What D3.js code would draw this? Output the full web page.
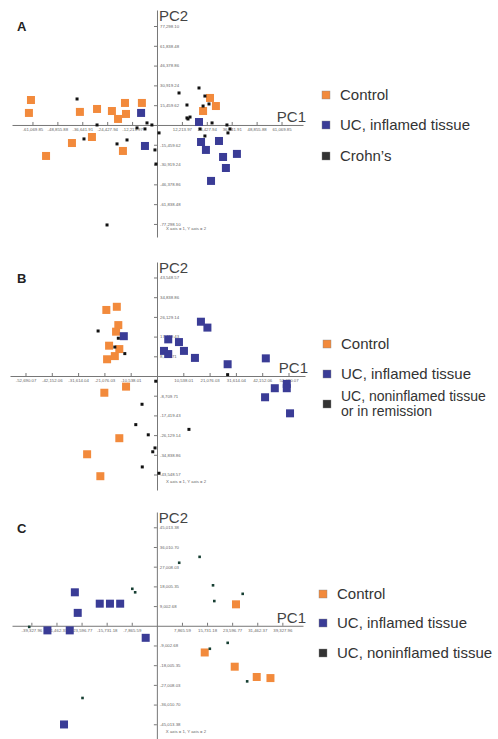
<!DOCTYPE html>
<html>
<head>
<meta charset="utf-8">
<script src="https://cdn.jsdelivr.net/npm/d3@7"></script>
<style>
  body { margin: 0; background: #fff; }
  svg { display: block; font-family: "Liberation Sans", Arial, sans-serif; }
  .tick text { fill: #666; }
</style>
</head>
<body>
<div id="viz"></div>
<script>
// values in thousands
const ctrlA = [[-61.8,19.5],[-62.8,9.4],[-37.8,10.2],[-29.4,12.5],[-22.1,10.9],[-15.7,17.2],[-15.2,8.6],[-19.1,4.7],[-7.4,17.2],[-31.9,-9.4],[-41.7,-14.1],[-54.4,-24.2],[-16.7,-20.3],[26.0,21.1],[28.9,14.8],[22.6,10.9]];
const ucA = [[-7.8,9.4],[-5.9,-16.4],[20.6,2.3],[21.6,-13.3],[24.0,-19.5],[30.4,-12.5],[32.4,-25.0],[39.2,-22.6],[33.8,-33.6],[26.5,-43.7]];
const crohnA = [[-39.2,20.3],[-29.4,0],[-35.8,-10.9],[-19.6,-14.8],[-14.7,-11.7],[-9.8,-2.3],[-5.9,-3.1],[-4.9,1.6],[-2.5,0],[1.0,-6.2],[-1.0,-19.5],[-0.5,-30.5],[-24.5,-78.1],[10.8,25.0],[20.6,28.9],[14.7,15.6],[23.5,22.6],[22.6,14.8],[25.5,16.4],[14.7,5.5],[16.2,6.2],[15.2,4.7],[27.0,1.6],[34.3,0],[35.8,-3.1],[34.8,-6.2],[23.5,-8.6],[21.1,-3.1]];

const ctrlB = [[-20.3,29.2],[-16.1,30.6],[-15.5,22.5],[-16.4,19.6],[-19.2,13.4],[-15.1,11.9],[-16.9,8.8],[-20.0,7.4],[-21.1,-7.4],[-12.4,-4.7],[-15.1,-27.5],[-28.0,-34.6],[-22.7,-44.3]];
const ucB = [[-13.3,17.6],[17.6,24.0],[20.2,21.4],[4.5,16.2],[8.8,15.0],[2.8,11.1],[4.5,9.7],[10.8,11.1],[15.2,8.0],[28.3,5.2],[43.6,7.8],[47.2,-5.4],[52.0,-3.5],[52.0,-5.4],[43.3,-9.4],[53.3,-16.5]];
const remB = [[-23.6,19.9],[-15.5,16.7],[-16.9,12.8],[-12.9,9.9],[-0.5,-2.3],[-6.0,-12.5],[-8.5,-21.5],[-3.5,-26.0],[-0.8,-31.8],[-1.7,-33.5],[-5.9,-40.2],[0.8,-43.0],[28.3,0.6],[12.8,-23.6]];

const ctrlC = [[24.8,9.8],[15.0,-12.2],[24.4,-18.7],[31.3,-23.4],[35.6,-23.9]];
const ucC = [[-25.7,15.3],[-24.8,5.9],[-17.9,10.1],[-14.7,10.1],[-11.5,10.1],[-34.3,-2.1],[-27.3,-2.1],[-3.5,-5.5],[-29.1,-45.1]];
const nonC = [[-40.0,-0.5],[-7.7,16.9],[-6.8,15.3],[-23.3,-33.0],[7.0,28.8],[13.4,31.5],[17.6,18.5],[26.9,14.6],[18.0,11.3],[22.2,-7.8],[16.6,-10.5],[28.3,-25.4]];

// tick values (thousands)
const xTicksA = [-61.06985,-48.85588,-36.64191,-24.42794,-12.21397,12.21397,24.42794,36.64191,48.85588,61.06985];
const yTicksA = [-77.2981,-61.83848,-46.37886,-30.91924,-15.45962,15.45962,30.91924,46.37886,61.83848,77.2981];
const xTicksB = [-52.69007,-42.15206,-31.61404,-21.07603,-10.53801,10.53801,21.07603,31.61404,42.15206,52.69007];
const yTicksB = [-43.54857,-34.83886,-26.12914,-17.41943,-8.70971,8.70971,17.41943,26.12914,34.83886,43.54857];
const xTicksC = [-39.32796,-31.46237,-23.59677,-15.73118,-7.86559,7.86559,15.73118,23.59677,31.46237,39.32796];
const yTicksC = [-45.01338,-36.0107,-27.00803,-18.00535,-9.00268,9.00268,18.00535,27.00803,36.0107,45.01338];

const legendA = ["Control", "UC, inflamed tissue", "Crohn\u2019s"];
const legendB = ["Control", "UC, inflamed tissue", ["UC, noninflamed tissue", "or in remission"]];
const legendC = ["Control", "UC, inflamed tissue", "UC, noninflamed tissue"];

const orange = "#f28a3c", blue = "#3a3c96";

const panels = [
  { letter: "A", ctrl: ctrlA, uc: ucA, other: crohnA, otherColor: "#111",
    xTicks: xTicksA, yTicks: yTicksA, xDom: [-71.1, 71.6], yDom: [-87.5, 89.8],
    xRange: [12, 303], yRange: [237, 10], legend: legendA, legX: 326, legY: [95, 125, 156] },
  { letter: "B", ctrl: ctrlB, uc: ucB, other: remB, otherColor: "#111",
    xTicks: xTicksB, yTicks: yTicksB, xDom: [-58.9, 59.3], yDom: [-50.4, 50.4],
    xRange: [10, 305], yRange: [490, 262], legend: legendB, legX: 327, legY: [344, 374, 404] },
  { letter: "C", ctrl: ctrlC, uc: ucC, other: nonC, otherColor: "#173f33",
    xTicks: xTicksC, yTicks: yTicksC, xDom: [-45.4, 45.8], yDom: [-52.2, 52.0],
    xRange: [12, 303], yRange: [740, 512], legend: legendC, legX: 323, legY: [594, 623, 653] }
];

const fmt = d3.formatLocale({ decimal: ".", thousands: ",", grouping: [3], currency: ["", ""], minus: "-" }).format(",.2f");

const svg = d3.select("#viz").append("svg").attr("width", 498).attr("height", 739);

panels.forEach(p => {
  const x = d3.scaleLinear().domain(p.xDom).range(p.xRange);
  const y = d3.scaleLinear().domain(p.yDom).range(p.yRange);
  const g = svg.append("g");

  const xAxis = d3.axisBottom(x).tickValues(p.xTicks).tickSizeInner(-3).tickSizeOuter(0)
    .tickPadding(3).tickFormat(d => fmt(d * 1000));
  const yAxis = d3.axisRight(y).tickValues(p.yTicks).tickSizeInner(-3).tickSizeOuter(0)
    .tickPadding(3).tickFormat(d => fmt(d * 1000));

  const gx = g.append("g").attr("transform", "translate(0," + y(0) + ")").call(xAxis);
  const gy = g.append("g").attr("transform", "translate(" + x(0) + ",0)").call(yAxis);
  [gx, gy].forEach(a => {
    a.select(".domain").attr("stroke", "#777");
    a.selectAll(".tick line").attr("stroke", "#777");
    a.selectAll(".tick text").attr("font-size", 4.3).attr("font-family", "Liberation Sans, Arial, sans-serif");
  });

  g.append("text").attr("x", x(0) + 2).attr("y", p.yRange[1] + 11)
    .attr("font-size", 15).attr("fill", "#444").text("PC2");
  g.append("text").attr("x", p.xRange[1] + 3).attr("y", y(0) - 3).attr("text-anchor", "end")
    .attr("font-size", 15).attr("fill", "#444").text("PC1");
  g.append("text").attr("x", x(0) + 9).attr("y", p.yRange[0] - 7)
    .attr("font-size", 4.3).attr("fill", "#666").text("X axis = 1, Y axis = 2");
  g.append("text").attr("x", 17).attr("y", p.yRange[1] + 21)
    .attr("font-size", 13).attr("font-weight", "bold").attr("fill", "#222").text(p.letter);

  const sq = 8;
  g.selectAll(".ctrl").data(p.ctrl).enter().append("rect")
    .attr("x", d => x(d[0]) - sq / 2).attr("y", d => y(d[1]) - sq / 2)
    .attr("width", sq).attr("height", sq).attr("fill", orange);
  g.selectAll(".uc").data(p.uc).enter().append("rect")
    .attr("x", d => x(d[0]) - sq / 2).attr("y", d => y(d[1]) - sq / 2)
    .attr("width", sq).attr("height", sq).attr("fill", blue);
  const dot = p.letter === "C" ? 2.6 : 3;
  g.selectAll(".oth").data(p.other).enter().append("rect")
    .attr("x", d => x(d[0]) - dot / 2).attr("y", d => y(d[1]) - dot / 2)
    .attr("width", dot).attr("height", dot).attr("fill", p.otherColor);

  const legColors = [orange, blue, "#333"];
  p.legend.forEach((label, i) => {
    const cy = p.legY[i];
    g.append("rect").attr("x", p.legX - 4).attr("y", cy - 4).attr("width", 8).attr("height", 8)
      .attr("fill", legColors[i]).attr("stroke", "#888").attr("stroke-width", 0.4);
    if (Array.isArray(label)) {
      label.forEach((line, k) => {
        g.append("text").attr("x", p.legX + 14).attr("y", cy - 3 + k * 15)
          .attr("font-size", 14).attr("fill", "#333").text(line);
      });
    } else {
      g.append("text").attr("x", p.legX + 14).attr("y", cy + 5)
        .attr("font-size", 15).attr("fill", "#333").text(label);
    }
  });
});
</script>
</body>
</html>
